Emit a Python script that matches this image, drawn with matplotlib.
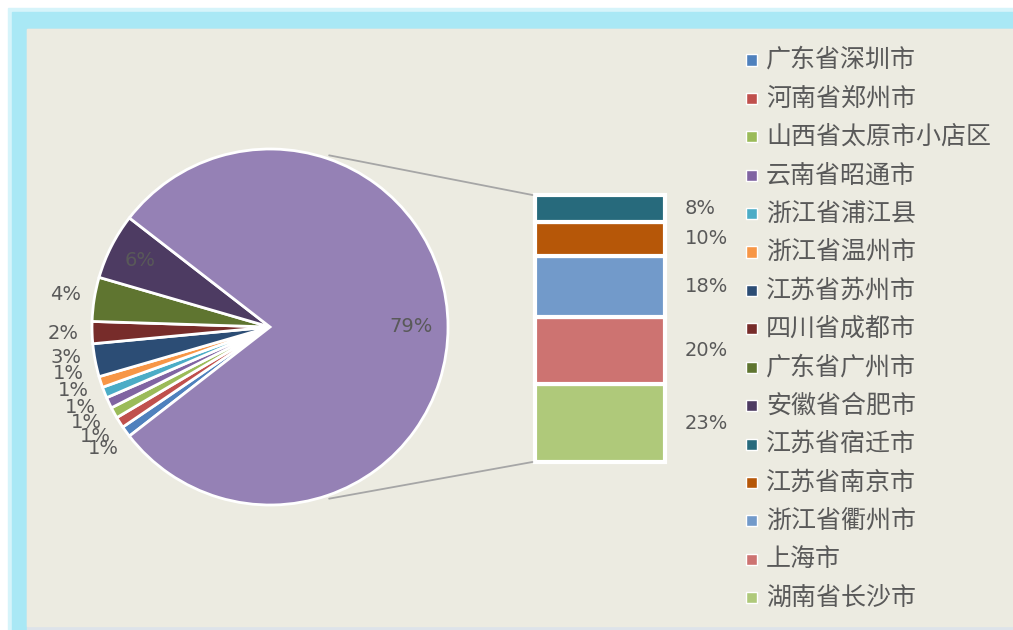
import numpy as np
import matplotlib
matplotlib.use('Agg')
import matplotlib.pyplot as plt
from matplotlib.patches import Rectangle, ConnectionPatch

plt.rcParams['font.family'] = ['DejaVu Sans', 'Noto Sans CJK SC']

# data
pie_names = ['广东省深圳市', '河南省郑州市', '山西省太原市小店区', '云南省昭通市', '浙江省浦江县',
             '浙江省温州市', '江苏省苏州市', '四川省成都市', '广东省广州市', '安徽省合肥市']
pie_vals = [1, 1, 1, 1, 1, 1, 3, 2, 4, 6]
pie_colors = ['#4F81BD', '#C0504D', '#9BBB59', '#8064A2', '#4BACC6',
              '#F79646', '#2C4D75', '#772C2A', '#5F7530', '#4D3B62']
bar_names = ['江苏省宿迁市', '江苏省南京市', '浙江省衢州市', '上海市', '湖南省长沙市']
bar_vals = [8, 10, 18, 20, 23]
bar_colors = ['#276A7C', '#B65708', '#729ACA', '#CD7371', '#AFC97A']
other_color = '#9581B5'
other_val = sum(bar_vals)

W, H = 1013, 630
txt_col = '#595959'


def fx(x):
    return x / W


def fy(y):
    return 1 - y / H


fig = plt.figure(figsize=(W / 100, H / 100), dpi=100)
fig.patch.set_facecolor('white')

# frame + background
fig.add_artist(Rectangle((fx(8), -0.1), 1.2, fy(8) + 0.1, transform=fig.transFigure,
                         color='#D6F4FA', zorder=-12))
fig.add_artist(Rectangle((fx(12), -0.1), 1.2, fy(12) + 0.1, transform=fig.transFigure,
                         color='#A9E8F5', zorder=-11))
fig.add_artist(Rectangle((fx(27), -0.1), 1, fy(29) + 0.1, transform=fig.transFigure,
                         color='#DDE3EA', zorder=-10.5))
fig.add_artist(Rectangle((fx(27), fy(626)), 1, fy(29) - fy(626), transform=fig.transFigure,
                         color='#ECEBE1', zorder=-10))

# pie
cx, cy, R = 270, 327, 178
half = 1.25 * R
ax_pie = fig.add_axes([fx(cx - half), fy(cy + half), 2 * half / W, 2 * half / H])
vals = pie_vals + [other_val]
cols = pie_colors + [other_color]
total = float(sum(vals))
start = 180 + 360 * sum(pie_vals) / total / 2
wedges, _ = ax_pie.pie(vals, colors=cols, startangle=start, counterclock=False, radius=1,
                       wedgeprops=dict(edgecolor='white', linewidth=2))
ax_pie.set_xlim(-1.25, 1.25)
ax_pie.set_ylim(-1.25, 1.25)
ax_pie.axis('off')

# label angles for the crowded small slices (excel pushes them apart)
moved_ang = {0: 216, 1: 212, 2: 207.5, 3: 203, 4: 198, 5: 193, 6: 188.5}
for i, w in enumerate(wedges):
    v = vals[i]
    mid = (w.theta1 + w.theta2) / 2
    if i == len(wedges) - 1:
        r = 0.79
        mid = 0
    elif v >= 6:
        r = 0.82
    else:
        r = 1.16
        mid = moved_ang.get(i, mid)
    ax_pie.text(r * np.cos(np.radians(mid)), r * np.sin(np.radians(mid)), '%d%%' % v,
                ha='center', va='center', fontsize=14, color=txt_col)

# bar
bx0, bx1, by0, by1 = 535, 665, 195, 462
ax_bar = fig.add_axes([fx(bx0), fy(by1), (bx1 - bx0) / W, (by1 - by0) / H])
bottom = 0
for v, c in zip(bar_vals[::-1], bar_colors[::-1]):
    ax_bar.bar(0, v, bottom=bottom, width=1, color=c, edgecolor='white', linewidth=3, clip_on=False)
    ax_bar.text(0.65, bottom + v / 2, '%d%%' % v, ha='left', va='center', fontsize=14, color=txt_col)
    bottom += v
ax_bar.set_xlim(-0.5, 0.5)
ax_bar.set_ylim(0, other_val)
ax_bar.axis('off')

# connector lines
ang = np.radians(71)
for sgn, yb in [(1, other_val), (-1, 0)]:
    con = ConnectionPatch(xyA=(1.02 * np.cos(ang), sgn * 1.02 * np.sin(ang)), coordsA=ax_pie.transData,
                          xyB=(-0.52, yb), coordsB=ax_bar.transData, color='#A6A6A6', linewidth=1.3)
    fig.add_artist(con)

# legend
names = pie_names + bar_names
colors = pie_colors + bar_colors
for i, (n, c) in enumerate(zip(names, colors)):
    y = 60 + 38.4 * i
    fig.add_artist(Rectangle((fx(746), fy(y + 5.5)), 11 / W, 11 / H, transform=fig.transFigure,
                             facecolor=c, edgecolor='white', linewidth=1))
    fig.text(fx(766), fy(y), n, ha='left', va='center', fontsize=18, color=txt_col,
             family=['Noto Sans CJK SC', 'DejaVu Sans'])

fig.savefig('out.png', dpi=100)
